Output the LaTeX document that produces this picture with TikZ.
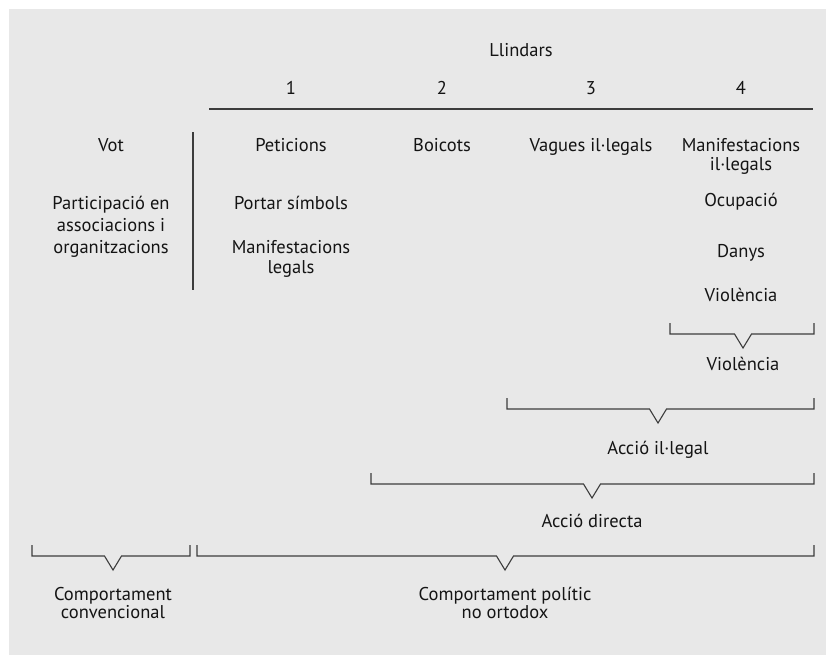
\documentclass[tikz,border=0pt]{standalone}
\usepackage{fontspec}
\setmainfont{PT Sans}
\definecolor{bggray}{HTML}{E8E8E8}
\definecolor{linegray}{HTML}{3C3C3C}
\definecolor{txtgray}{HTML}{141414}

\begin{document}
\begin{tikzpicture}
	[x=1pt,y=-1pt%
	,every node/.style={text=txtgray,%
		font=\fontsize{18.5}{20}\selectfont,%
		align=center,%
		anchor=base,%
		inner sep=0pt}%
	,rule/.style={draw=linegray,line width=1.2pt}%
	,brk/.style={draw=linegray,line width=1.1pt,line join=miter}]
	\useasboundingbox (0,0) rectangle (826,657);
	\fill[bggray] (9,9) rectangle (826,655);
	% header
	\node (llindars) at (521,56) {Llindars};
	\foreach \n/\x in {1/291,2/442,3/591,4/741}
		\node (num\n) at (\x,94) {\n};
	\draw[rule] (209,109) -- (813,109);
	\draw[rule] (193,132) -- (193,290);
	% conventional column (base = last line)
	\node (vot) at (111,151) {Vot};
	\node[font=\fontsize{18.5}{22}\selectfont] (partic) at (111,253)
		{Participació en\\associacions i\\organitzacions};
	% thresholds
	\node (petic) at (291,151) {Peticions};
	\node (portar) at (291,209) {Portar símbols};
	\node (manifl) at (291,273) {Manifestacions\\legals};
	\node (boic) at (442,151) {Boicots};
	\node (vagues) at (591,151) {Vagues il·legals};
	\node[font=\fontsize{18.5}{19}\selectfont] (manifil) at (741,170) {Manifestacions\\il·legals};
	\node (ocup) at (741,206) {Ocupació};
	\node (danys) at (741,257) {Danys};
	\node (viol) at (741,301) {Violència};
	% brackets
	\foreach \xa/\xb/\xm/\yt in {670/814/743/323,507/814/658/398,%
		371/814/592/473,32/190/113/545,197/814/505/545}
		\draw[brk] (\xa,\yt) -- (\xa,\yt+11) -- (\xm-8.5,\yt+11)
			-- (\xm,\yt+25) -- (\xm+8.5,\yt+11) -- (\xb,\yt+11) -- (\xb,\yt);
	\node (violb) at (743,370) {Violència};
	\node (accil) at (658,454) {Acció il·legal};
	\node (accdir) at (592,527) {Acció directa};
	\node[font=\fontsize{18.5}{18}\selectfont] (conv) at (113,618) {Comportament\\convencional};
	\node[font=\fontsize{18.5}{18}\selectfont] (noort) at (505,618) {Comportament polític\\no ortodox};
\end{tikzpicture}
\end{document}
